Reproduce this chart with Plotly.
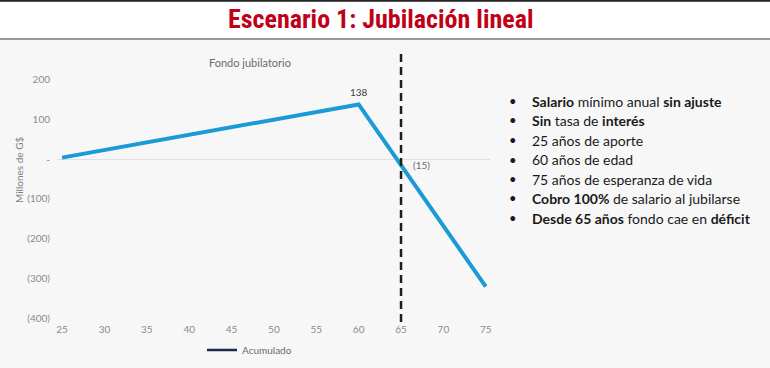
import plotly.graph_objects as go

# ---- data ----
edades = [25, 60, 65, 75]
acumulado = [4, 138, -15, -321]
label_edades = [60, 65]
label_valores = [138, -15]
label_textos = ["138", "(15)"]
x_ticks = [25, 30, 35, 40, 45, 50, 55, 60, 65, 70, 75]
y_ticks = [200, 100, 0, -100, -200, -300, -400]
y_ticktext = ["200", "100", "-", "(100)", "(200)", "(300)", "(400)"]
edad_jubilacion_deficit = 65
bullets = [
    "<b>Salario</b> mínimo anual <b>sin ajuste</b>",
    "<b>Sin</b> tasa de <b>interés</b>",
    "25 años de aporte",
    "60 años de edad",
    "75 años de esperanza de vida",
    "<b>Cobro 100%</b> de salario al jubilarse",
    "<b>Desde 65 años</b> fondo cae en <b>déficit</b>",
]

W, H = 770, 368
L, R, T, B = 57, 490, 52, 322


def px(xp):
    return (xp - L) / (R - L)


def py(yp):
    return (B - yp) / (B - T)


FONT = "Lato, 'Open Sans', sans-serif"

fig = go.Figure()
fig.add_trace(go.Scatter(
    x=edades, y=acumulado, mode="lines",
    line=dict(color="#1a9ad6", width=4),
    showlegend=False, hoverinfo="skip",
))
fig.add_trace(go.Scatter(
    x=[None], y=[None], mode="lines", name="Acumulado",
    line=dict(color="#1f2a4d", width=2.5),
))

shapes = [
    dict(type="rect", xref="paper", yref="paper", x0=px(0), x1=px(W), y0=py(H), y1=py(39),
         fillcolor="#f7f7f7", line=dict(width=0), layer="below"),
    dict(type="line", xref="paper", yref="paper", x0=px(0), x1=px(W), y0=py(39), y1=py(39),
         line=dict(color="#9a9a9a", width=2)),
    dict(type="line", xref="paper", yref="paper", x0=px(0), x1=px(W), y0=py(0.8), y1=py(0.8),
         line=dict(color="#222222", width=2)),
    dict(type="line", xref="x", yref="paper", x0=edad_jubilacion_deficit, x1=edad_jubilacion_deficit,
         y0=0, y1=1, line=dict(color="#1e1e1e", width=2.5, dash="8px,5px")),
]

annotations = [
    dict(xref="paper", yref="paper", x=px(380), y=py(19), text="<b>Escenario 1: Jubilación lineal</b>",
         showarrow=False, xanchor="center", yanchor="middle",
         font=dict(family="'Liberation Sans Narrow', 'Roboto Condensed', sans-serif", size=26, color="#c00018")),
    dict(xref="paper", yref="paper", x=px(250), y=py(62), text="Fondo jubilatorio",
         showarrow=False, xanchor="center", yanchor="middle",
         font=dict(family=FONT, size=11, color="#6b6b6b")),
    dict(xref="paper", yref="paper", x=px(19), y=py(170), text="Millones de G$", textangle=-90,
         showarrow=False, xanchor="center", yanchor="middle",
         font=dict(family=FONT, size=10, color="#7f7f7f")),
]

for ex, val, t in zip(label_edades, label_valores, label_textos):
    if val > 0:
        annotations.append(dict(x=ex, y=val, text=t, showarrow=False, yanchor="bottom", yshift=4,
                                font=dict(family=FONT, size=10, color="#404040")))
    else:
        annotations.append(dict(x=ex, y=val, text=t, showarrow=False, xanchor="left", xshift=10, yshift=0,
                                font=dict(family=FONT, size=10, color="#6b6b6b")))

for i, b in enumerate(bullets):
    yy = 101 + i * 19.5
    annotations.append(dict(xref="paper", yref="paper", x=px(513), y=py(yy), text="•",
                            showarrow=False, xanchor="center", yanchor="middle",
                            font=dict(family=FONT, size=13, color="#1a1a1a")))
    annotations.append(dict(xref="paper", yref="paper", x=px(530), y=py(yy), text=b,
                            showarrow=False, xanchor="left", yanchor="middle",
                            font=dict(family=FONT, size=14, color="#1a1a1a")))

fig.update_layout(
    width=W, height=H,
    margin=dict(l=L, r=W - R, t=T, b=H - B, autoexpand=False),
    paper_bgcolor="#ffffff", plot_bgcolor="rgba(0,0,0,0)",
    shapes=shapes, annotations=annotations,
    font=dict(family=FONT, color="#8a8a8a"),
    showlegend=True,
    legend=dict(orientation="h", x=px(202), y=py(350), xanchor="left", yanchor="middle",
                bgcolor="rgba(0,0,0,0)", font=dict(family=FONT, size=10, color="#6b6b6b")),
    xaxis=dict(range=[24.4, 75.5], tickvals=x_ticks, showgrid=False, zeroline=False,
               showline=False, ticks="", tickfont=dict(size=10, color="#8a8a8a")),
    yaxis=dict(range=[-410, 270], tickvals=y_ticks, ticktext=y_ticktext, showgrid=False,
               zeroline=True, zerolinecolor="#e0e0e0", zerolinewidth=1, showline=False,
               ticks="", ticklabelstandoff=6, tickfont=dict(size=10, color="#8a8a8a")),
)

fig.write_html("out.html", post_script="document.body.style.margin='0';",
               config={"displayModeBar": False})
